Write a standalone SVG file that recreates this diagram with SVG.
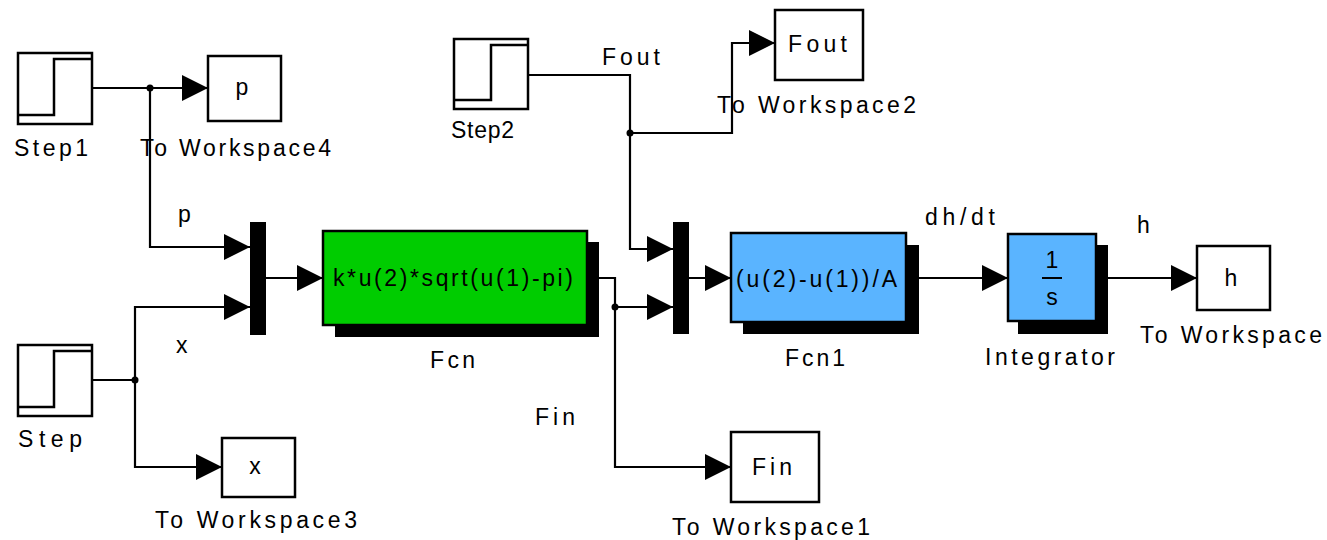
<svg xmlns="http://www.w3.org/2000/svg" width="1327" height="540" viewBox="0 0 1327 540">
<defs>
<marker id="arr" markerUnits="userSpaceOnUse" markerWidth="30" markerHeight="30" refX="26" refY="13" orient="auto">
<path d="M0,0 L26,13 L0,26 z" fill="#000"/>
</marker>
</defs>
<style>
text{font-family:"Liberation Sans",Arial,sans-serif;font-size:23px;fill:#000}
.box{fill:#fff;stroke:#000;stroke-width:2.5}
.wire{fill:none;stroke:#000;stroke-width:2.2}
.step{fill:none;stroke:#000;stroke-width:2.5}
.shadow{fill:#000}
.mux{fill:#000}
.dot{fill:#000}
.mid{text-anchor:middle}
</style>
<rect width="1327" height="540" fill="#fff"/>

<g id="connectors">
<path class="wire" d="M92,88 H208" marker-end="url(#arr)"/>
<path class="wire" d="M150,88 V247 H250" marker-end="url(#arr)"/>
<path class="wire" d="M92,380 H135 V307 H250" marker-end="url(#arr)"/>
<path class="wire" d="M135,380 V467 H222" marker-end="url(#arr)"/>
<path class="wire" d="M265,278 H323" marker-end="url(#arr)"/>
<path class="wire" d="M598,278 H615 V307 H673" marker-end="url(#arr)"/>
<path class="wire" d="M615,307 V467 H731" marker-end="url(#arr)"/>
<path class="wire" d="M528,75 H630 V249 H673" marker-end="url(#arr)"/>
<path class="wire" d="M630,133 H732 V43 H775" marker-end="url(#arr)"/>
<path class="wire" d="M689,278 H731" marker-end="url(#arr)"/>
<path class="wire" d="M919,278 H1008" marker-end="url(#arr)"/>
<path class="wire" d="M1108,278 H1197" marker-end="url(#arr)"/>
<circle class="dot" cx="150" cy="88" r="3.5"/>
<circle class="dot" cx="135" cy="380" r="3.5"/>
<circle class="dot" cx="615" cy="307" r="3.5"/>
<circle class="dot" cx="630" cy="133" r="3.5"/>
<text x="178" y="222">p</text>
<text x="176" y="353">x</text>
<text x="535" y="425" textLength="40" lengthAdjust="spacing">Fin</text>
<text x="602" y="65" textLength="58" lengthAdjust="spacing">Fout</text>
<text x="925" y="225" textLength="70" lengthAdjust="spacing">dh/dt</text>
<text x="1137" y="233">h</text>
</g>

<g id="step1">
<rect class="box" x="18" y="53" width="74" height="71"/>
<path class="step" d="M18,115 H54 V59 H92"/>
<text x="14" y="156" textLength="74" lengthAdjust="spacing">Step1</text>
</g>

<g id="toWorkspace4">
<rect class="box" x="208" y="56" width="73" height="65"/>
<text x="242" y="95" class="mid">p</text>
<text x="140" y="156" textLength="191" lengthAdjust="spacing">To Workspace4</text>
</g>

<g id="step">
<rect class="box" x="18" y="345" width="74" height="71"/>
<path class="step" d="M18,407 H54 V351 H92"/>
<text x="18" y="447" textLength="64" lengthAdjust="spacing">Step</text>
</g>

<g id="toWorkspace3">
<rect class="box" x="222" y="438" width="73" height="59"/>
<text x="255" y="474" class="mid">x</text>
<text x="155" y="528" textLength="202" lengthAdjust="spacing">To Workspace3</text>
</g>

<g id="mux1">
<rect class="mux" x="250" y="222" width="16" height="113"/>
</g>

<g id="fcn">
<rect class="shadow" x="335" y="242" width="264" height="95"/>
<rect x="323" y="231" width="264" height="94" fill="#00CC00" stroke="#000" stroke-width="2.5"/>
<text x="333" y="286" textLength="240" lengthAdjust="spacing">k*u(2)*sqrt(u(1)-pi)</text>
<text x="430" y="368" textLength="45" lengthAdjust="spacing">Fcn</text>
</g>

<g id="toWorkspace1">
<rect class="box" x="731" y="432" width="88" height="70"/>
<text x="752" y="475" textLength="40" lengthAdjust="spacing">Fin</text>
<text x="672" y="535" textLength="198" lengthAdjust="spacing">To Workspace1</text>
</g>

<g id="step2">
<rect class="box" x="454" y="39" width="74" height="70"/>
<path class="step" d="M454,100 H491 V45 H528"/>
<text x="451" y="138" textLength="63" lengthAdjust="spacing">Step2</text>
</g>

<g id="toWorkspace2">
<rect class="box" x="775" y="10" width="88" height="70"/>
<text x="788" y="52" textLength="59" lengthAdjust="spacing">Fout</text>
<text x="717" y="113" textLength="199" lengthAdjust="spacing">To Workspace2</text>
</g>

<g id="mux2">
<rect class="mux" x="673" y="222" width="16" height="112"/>
</g>

<g id="fcn1">
<rect class="shadow" x="743" y="245" width="176" height="89"/>
<rect x="731" y="233" width="175" height="89" fill="#5AB4FF" stroke="#000" stroke-width="2.5"/>
<text x="736" y="287" textLength="161" lengthAdjust="spacing">(u(2)-u(1))/A</text>
<text x="785" y="366" textLength="60" lengthAdjust="spacing">Fcn1</text>
</g>

<g id="integrator">
<rect class="shadow" x="1018" y="245" width="90" height="89"/>
<rect x="1008" y="234" width="88" height="87" fill="#5AB4FF" stroke="#000" stroke-width="2.5"/>
<text x="1052" y="268" class="mid">1</text>
<line x1="1042" y1="278" x2="1062" y2="278" stroke="#000" stroke-width="2"/>
<text x="1052" y="305" class="mid">s</text>
<text x="985" y="365" textLength="130" lengthAdjust="spacing">Integrator</text>
</g>

<g id="toWorkspace">
<rect class="box" x="1197" y="246" width="73" height="64"/>
<text x="1231" y="286" class="mid">h</text>
<text x="1140" y="343" textLength="182" lengthAdjust="spacing">To Workspace</text>
</g>
</svg>
